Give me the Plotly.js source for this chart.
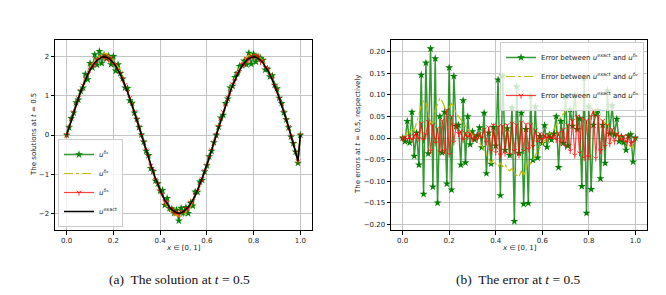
<!DOCTYPE html>
<html>
<head>
<meta charset="utf-8">
<script src="https://cdn.plot.ly/plotly-3.0.1.min.js"></script>
<style>html,body{margin:0;padding:0;background:#fff;}#chart{width:666px;height:295px;}</style>
</head>
<body>
<div id="chart"></div>
<script>
// x grid (x in [0,1], step 0.01)
const xGrid = [
 0.00,0.01,0.02,0.03,0.04,0.05,0.06,0.07,0.08,0.09,
 0.10,0.11,0.12,0.13,0.14,0.15,0.16,0.17,0.18,0.19,
 0.20,0.21,0.22,0.23,0.24,0.25,0.26,0.27,0.28,0.29,
 0.30,0.31,0.32,0.33,0.34,0.35,0.36,0.37,0.38,0.39,
 0.40,0.41,0.42,0.43,0.44,0.45,0.46,0.47,0.48,0.49,
 0.50,0.51,0.52,0.53,0.54,0.55,0.56,0.57,0.58,0.59,
 0.60,0.61,0.62,0.63,0.64,0.65,0.66,0.67,0.68,0.69,
 0.70,0.71,0.72,0.73,0.74,0.75,0.76,0.77,0.78,0.79,
 0.80,0.81,0.82,0.83,0.84,0.85,0.86,0.87,0.88,0.89,
 0.90,0.91,0.92,0.93,0.94,0.95,0.96,0.97,0.98,0.99,
 1.00];

// exact solution
const uExact = [
 0,0.2,0.39,0.58,0.77,0.94,1.11,1.27,1.41,1.55,
 1.66,1.76,1.85,1.91,1.96,1.99,2.0,1.99,1.96,1.91,
 1.85,1.76,1.66,1.55,1.41,1.27,1.11,0.94,0.77,0.58,
 0.39,0.2,0,-0.2,-0.39,-0.58,-0.77,-0.94,-1.11,-1.27,
 -1.41,-1.55,-1.66,-1.76,-1.85,-1.91,-1.96,-1.99,-2.0,-1.99,
 -1.96,-1.91,-1.85,-1.76,-1.66,-1.55,-1.41,-1.27,-1.11,-0.94,
 -0.77,-0.58,-0.39,-0.2,0,0.2,0.39,0.58,0.77,0.94,
 1.11,1.27,1.41,1.55,1.66,1.76,1.85,1.91,1.96,1.99,
 2.0,1.99,1.96,1.91,1.85,1.76,1.66,1.55,1.41,1.27,
 1.11,0.94,0.77,0.58,0.39,0.2,-0.02,-0.22,-0.44,-0.66,
 0];

// errors
const errDelta1 = [
 0,-0.008,0.039,-0.011,0.060,-0.042,0.012,-0.062,0.146,-0.130,
 0.174,-0.036,0.207,-0.113,0.184,-0.150,0.050,-0.034,0.060,-0.106,
 0.163,-0.120,0.143,0.027,0.030,-0.062,0.087,-0.057,0.050,-0.015,
 0.015,-0.004,0.006,0.024,-0.022,0.058,-0.082,0.012,-0.060,0.025,
 -0.018,0.135,-0.133,0.144,-0.028,0.022,-0.040,0.070,-0.193,0.119,
 -0.035,0.058,-0.153,0.020,-0.151,0.097,-0.051,0.073,-0.046,0.004,
 -0.012,0.029,-0.021,0.008,-0.004,0.010,0.050,-0.068,0.039,-0.012,
 0.096,-0.018,0.066,0.028,0.100,0.020,0.045,-0.112,0.138,-0.174,
 0.073,-0.119,0.030,0.055,0.064,-0.094,0.030,-0.058,0.110,0.010,
 0.075,0.008,0.044,-0.008,0.003,-0.010,-0.028,0.005,0.008,-0.055,
 0];

const errDelta2 = [
 0,0.005,0.015,0.010,0.022,0.018,0.035,0.055,0.075,0.086,
 0.082,0.060,0.030,0.040,0.065,0.078,0.093,0.085,0.072,0.060,
 0.070,0.080,0.072,0.058,0.050,0.042,0.035,0.028,0.022,0.014,
 0.008,0.002,-0.004,-0.010,-0.018,-0.028,-0.040,-0.048,-0.058,-0.050,
 -0.060,-0.066,-0.058,-0.066,-0.060,-0.072,-0.076,-0.070,-0.082,-0.086,
 -0.090,-0.076,-0.088,-0.070,-0.052,-0.060,-0.048,-0.040,-0.030,-0.022,
 -0.012,-0.004,0.004,0.010,0.014,0.020,0.030,0.040,0.050,0.055,
 0.062,0.066,0.072,0.068,0.064,0.080,0.090,0.084,0.094,0.100,
 0.090,0.072,0.062,0.055,0.050,0.044,0.040,0.034,0.030,0.024,
 0.020,0.015,0.010,0.006,0.002,-0.004,-0.008,-0.014,-0.020,-0.022,
 0];

const errDelta3 = [
 0,0.002,-0.003,0.004,-0.004,0.006,0.010,-0.002,0.034,-0.005,
 0.008,0.038,-0.030,0.030,-0.012,0.022,-0.032,0.040,-0.030,0.065,
 -0.038,0.050,-0.010,0.030,0.010,0.015,-0.005,0.012,0.002,0.010,
 -0.002,0.006,-0.004,0.010,0.000,0.020,-0.010,0.025,-0.030,0.030,
 -0.034,0.026,-0.040,0.028,-0.036,0.030,-0.038,0.034,-0.030,0.030,
 -0.040,0.036,-0.030,0.032,-0.026,0.030,-0.020,0.018,-0.010,0.010,
 -0.004,0.006,0.000,0.004,-0.002,0.008,-0.004,0.012,-0.010,0.020,
 -0.020,0.030,-0.030,0.040,-0.040,0.050,-0.035,0.045,-0.046,0.040,
 -0.044,0.050,0.065,-0.047,0.050,-0.030,0.040,-0.020,0.030,-0.014,
 0.020,-0.008,0.010,0.004,-0.006,0.004,-0.010,0.004,-0.012,-0.010,
 0];

const xTickVals = [0, 0.2, 0.4, 0.6, 0.8, 1.0];

// perturbed solutions = exact + error
const uDelta1 = uExact.map((v, i) => v + errDelta1[i]);
const uDelta2 = uExact.map((v, i) => v + errDelta2[i]);
const uDelta3 = uExact.map((v, i) => v + errDelta3[i]);

const GREEN = '#008000', YELLOW = '#bfbf00', RED = '#ff0000';
const FONT = 'DejaVu Sans';

const greenStyle = {mode: 'lines+markers', line: {color: 'rgba(0,128,0,0.8)', width: 1.5},
  marker: {symbol: 'star', size: 6, color: GREEN, line: {width: 0}}};
const yellowStyle = {mode: 'lines', line: {color: YELLOW, width: 1.2, dash: 'dashdot'}};
const redStyle = {mode: 'lines+markers', line: {color: 'rgba(255,0,0,0.75)', width: 1.2},
  marker: {symbol: 'y-down', size: 4, color: RED, line: {width: 0.8, color: RED}}};

const traces = [
  Object.assign({x: xGrid, y: uDelta1, name: '<i>u</i><sup>δ₁</sup>', xaxis: 'x', yaxis: 'y', legend: 'legend'}, greenStyle),
  Object.assign({x: xGrid, y: uDelta2, name: '<i>u</i><sup>δ₂</sup>', xaxis: 'x', yaxis: 'y', legend: 'legend'}, yellowStyle),
  Object.assign({x: xGrid, y: uDelta3, name: '<i>u</i><sup>δ₃</sup>', xaxis: 'x', yaxis: 'y', legend: 'legend'}, redStyle),
  {x: xGrid, y: uExact, name: '<i>u</i><sup>exact</sup>', mode: 'lines', line: {color: '#000', width: 1.5},
   xaxis: 'x', yaxis: 'y', legend: 'legend'},
  Object.assign({x: xGrid, y: errDelta1, name: 'Error between <i>u</i><sup>exact</sup> and <i>u</i><sup>δ₁</sup>',
    xaxis: 'x2', yaxis: 'y2', legend: 'legend2'}, greenStyle),
  Object.assign({x: xGrid, y: errDelta2, name: 'Error between <i>u</i><sup>exact</sup> and <i>u</i><sup>δ₂</sup>',
    xaxis: 'x2', yaxis: 'y2', legend: 'legend2'}, yellowStyle),
  Object.assign({x: xGrid, y: errDelta3, name: 'Error between <i>u</i><sup>exact</sup> and <i>u</i><sup>δ₃</sup>',
    xaxis: 'x2', yaxis: 'y2', legend: 'legend2'}, redStyle)
];

const W = 666, H = 295;
const px = v => v / W;
const py = v => 1 - v / H;

const axisCommon = {
  showline: true, mirror: true, linecolor: '#000', linewidth: 1,
  showgrid: true, gridcolor: '#c4c4c4', gridwidth: 1,
  zeroline: false, ticks: 'outside', ticklen: 3.5, tickwidth: 1, tickcolor: '#000',
  tickfont: {family: FONT, size: 7, color: '#222'}
};

const label = (text, x, y, angle, font) => ({
  text: text, x: px(x), y: py(y), xref: 'paper', yref: 'paper', xanchor: 'center', yanchor: 'middle',
  textangle: angle, showarrow: false, font: font
});
const axFont = {family: FONT, size: 7, color: '#222'};
const capFont = {family: 'Liberation Serif', size: 13.5, color: '#111'};

const layout = {
  width: W, height: H,
  margin: {l: 0, r: 0, t: 0, b: 0},
  paper_bgcolor: '#fff', plot_bgcolor: '#fff',
  font: {family: FONT, size: 7, color: '#222'},
  xaxis: Object.assign({}, axisCommon, {domain: [px(55), px(312)], range: [-0.05, 1.05],
    tickvals: xTickVals, tickformat: '.1f', anchor: 'y'}),
  yaxis: Object.assign({}, axisCommon, {domain: [py(230), py(40)], range: [-2.43, 2.43],
    dtick: 1, tick0: 0, anchor: 'x'}),
  xaxis2: Object.assign({}, axisCommon, {domain: [px(391), px(647)], range: [-0.05, 1.05],
    tickvals: xTickVals, tickformat: '.1f', anchor: 'y2'}),
  yaxis2: Object.assign({}, axisCommon, {domain: [py(230), py(40)], range: [-0.213, 0.227],
    dtick: 0.05, tick0: 0, tickformat: '.2f', anchor: 'x2'}),
  legend: {x: px(58), xanchor: 'left', y: py(227), yanchor: 'bottom',
    bgcolor: 'rgba(255,255,255,0.8)', bordercolor: '#cccccc', borderwidth: 1,
    font: {family: FONT, size: 7, color: '#222'}, itemwidth: 30, tracegroupgap: 0},
  legend2: {x: px(644), xanchor: 'right', y: py(42), yanchor: 'top',
    bgcolor: 'rgba(255,255,255,0.8)', bordercolor: '#cccccc', borderwidth: 1,
    font: {family: FONT, size: 7, color: '#222'}, itemwidth: 30, tracegroupgap: 0},
  showlegend: true,
  annotations: [
    label('The solutions at <i>t</i> = 0.5', 34, 135, -90, axFont),
    label('<i>x</i> ∈ [0, 1]', 183.5, 248, 0, axFont),
    label('The errors at <i>t</i> = 0.5, respectively', 358, 135, -90, axFont),
    label('<i>x</i> ∈ [0, 1]', 519, 248, 0, axFont),
    label('(a)  The solution at <i>t</i> = 0.5', 179, 279, 0, capFont),
    label('(b)  The error at <i>t</i> = 0.5', 518, 279, 0, capFont)
  ]
};

Plotly.newPlot('chart', traces, layout, {displayModeBar: false, staticPlot: true});
</script>
</body>
</html>
